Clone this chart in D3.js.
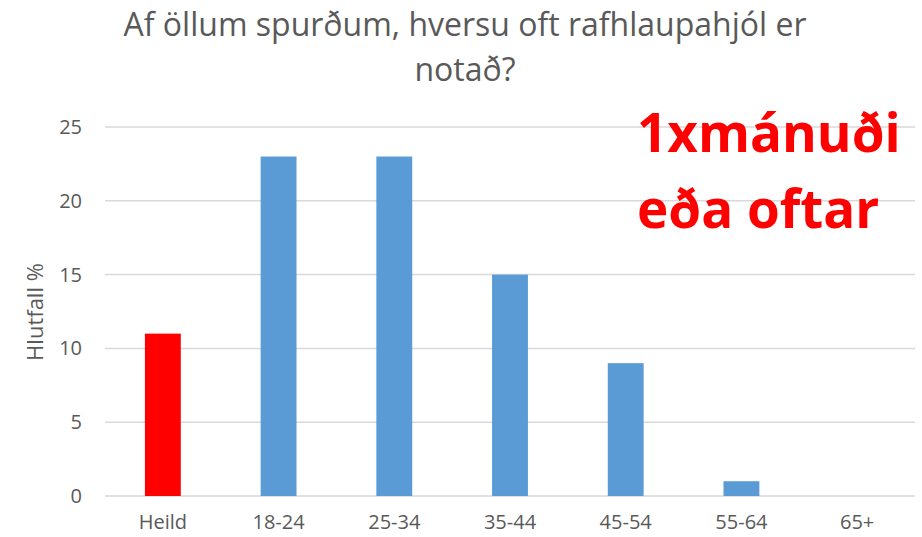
<!DOCTYPE html>
<html>
<head>
<meta charset="utf-8">
<script src="https://cdn.jsdelivr.net/npm/d3@7"></script>
<style>
  body { margin: 0; background: #fff; }
  text { font-family: "Open Sans", "Liberation Sans", sans-serif; }
</style>
</head>
<body>
<div class="container"></div>
<script>
var categories = ['Heild', '18-24', '25-34', '35-44', '45-54', '55-64', '65+'];
var values = [11, 23, 23, 15, 9, 1, 0];
var yTicks = [0, 5, 10, 15, 20, 25];
var titleLines = ['Af öllum spurðum, hversu oft rafhlaupahjól er', 'notað?'];
var noteLines = ['1xmánuði', 'eða oftar'];

var drawChart = function () {
    var WIDTH = 922, HEIGHT = 537;
    var LEFT = 105, RIGHT = 915, TOP = 127, BOTTOM = 496;

    var svg = d3.select('.container').append('svg')
        .attr('width', WIDTH)
        .attr('height', HEIGHT);

    var xScale = d3.scaleBand()
        .domain(categories)
        .range([LEFT, RIGHT])
        .padding(0);

    var yScale = d3.scaleLinear()
        .domain([0, 25])
        .range([BOTTOM, TOP]);

    // gridlines
    svg.append('g')
        .selectAll('line')
        .data(yTicks)
        .enter().append('line')
        .attr('x1', LEFT).attr('x2', RIGHT)
        .attr('y1', function (d) { return yScale(d); })
        .attr('y2', function (d) { return yScale(d); })
        .attr('stroke', '#d9d9d9')
        .attr('stroke-width', 1.5);

    // y axis labels
    var yAxis = d3.axisLeft(yScale).tickValues(yTicks).tickSize(0).tickPadding(0);
    var yG = svg.append('g')
        .attr('transform', 'translate(82,0)')
        .call(yAxis);
    yG.select('.domain').remove();
    yG.selectAll('text')
        .attr('fill', '#595959')
        .style('font-size', '20px');

    // x axis labels
    var xAxis = d3.axisBottom(xScale).tickSize(0).tickPadding(0);
    var xG = svg.append('g')
        .attr('transform', 'translate(0,' + BOTTOM + ')')
        .call(xAxis);
    xG.select('.domain').remove();
    xG.selectAll('text')
        .attr('dy', null)
        .attr('y', 33)
        .attr('fill', '#595959')
        .style('font-size', '20px');

    // bars
    var barW = xScale.bandwidth() * 0.31;
    svg.append('g')
        .selectAll('rect')
        .data(values)
        .enter().append('rect')
        .attr('x', function (d, i) { return xScale(categories[i]) + (xScale.bandwidth() - barW) / 2; })
        .attr('y', function (d) { return yScale(d); })
        .attr('width', barW)
        .attr('height', function (d) { return yScale(0) - yScale(d); })
        .attr('fill', function (d, i) { return i === 0 ? '#ff0000' : '#5b9bd5'; });

    // y axis title
    svg.append('text')
        .attr('transform', 'translate(43,312) rotate(-90)')
        .attr('text-anchor', 'middle')
        .attr('fill', '#595959')
        .style('font-size', '22px')
        .text('Hlutfall %');

    // chart title
    svg.append('g')
        .selectAll('text')
        .data(titleLines)
        .enter().append('text')
        .attr('x', 465)
        .attr('y', function (d, i) { return 36 + i * 45; })
        .attr('text-anchor', 'middle')
        .attr('fill', '#595959')
        .style('font-size', '32px')
        .text(function (d) { return d; });

    // red annotation
    svg.append('g')
        .selectAll('text')
        .data(noteLines)
        .enter().append('text')
        .attr('x', 637)
        .attr('y', function (d, i) { return 152 + i * 76; })
        .attr('fill', '#ff0000')
        .style('font-size', '53px')
        .style('font-weight', 'bold')
        .text(function (d) { return d; });
};

window.onload = drawChart;
</script>
</body>
</html>
